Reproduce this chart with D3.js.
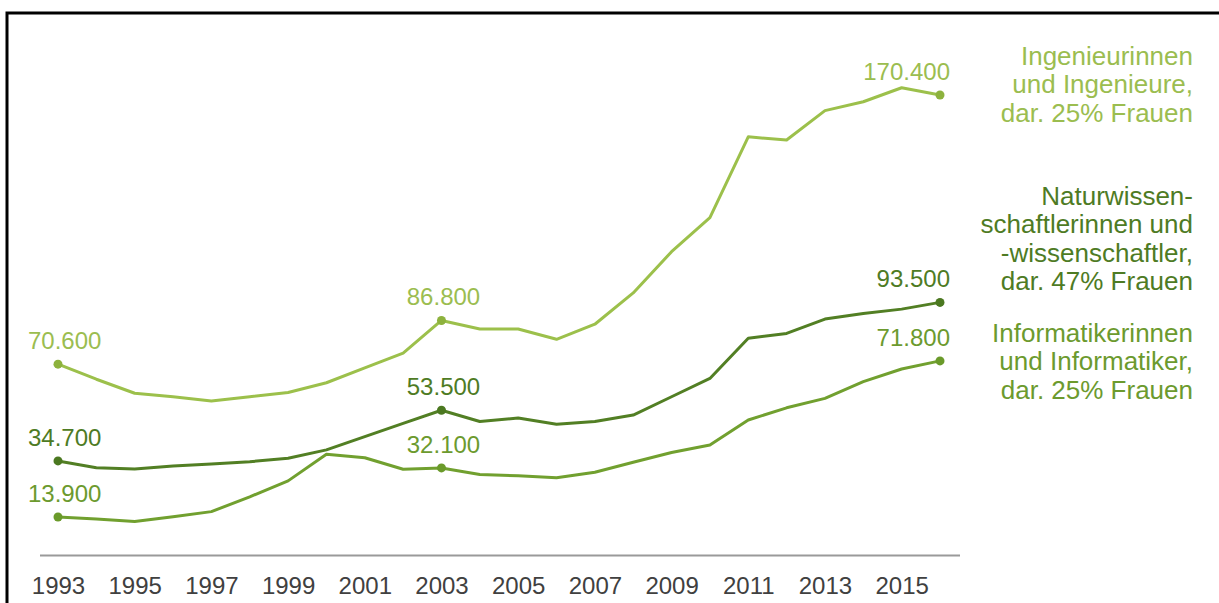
<!DOCTYPE html>
<html>
<head>
<meta charset="utf-8">
<script src="https://cdn.jsdelivr.net/npm/d3@7"></script>
<style>
  html, body { margin: 0; padding: 0; background: #fff; overflow: hidden; }
  svg { display: block; font-family: "Liberation Sans", Arial, sans-serif; }
</style>
</head>
<body>
<svg id="chart" width="1219" height="603"></svg>
<script>
// ---- Data (thousands) ----
const years = d3.range(1993, 2017);
const tickYears = [1993, 1995, 1997, 1999, 2001, 2003, 2005, 2007, 2009, 2011, 2013, 2015];

const ingenieure = [70.6, 65.0, 59.8, 58.5, 56.9, 58.5, 60.1, 63.7, 69.2, 74.7, 86.8, 83.6,
                    83.6, 79.8, 85.4, 97.0, 112.3, 124.9, 154.9, 153.7, 164.6, 167.9, 173.1, 170.4];
const naturwiss = [34.7, 32.2, 31.7, 32.8, 33.6, 34.4, 35.7, 38.8, 43.7, 48.6, 53.5, 49.3,
                   50.6, 48.3, 49.3, 51.7, 58.5, 65.3, 80.2, 82.0, 87.3, 89.4, 91.0, 93.5];
const informatik = [13.9, 13.2, 12.2, 14.0, 15.9, 21.4, 27.3, 37.2, 35.9, 31.6, 32.1, 29.7,
                    29.2, 28.5, 30.5, 34.2, 37.8, 40.6, 49.9, 54.4, 57.9, 64.1, 68.8, 71.8];

const seriesNames = ["Ingenieure", "Naturwiss", "Informatik"];
const legendLines = [
  ["Ingenieurinnen", "und Ingenieure,", "dar. 25% Frauen"],
  ["Naturwissen-", "schaftlerinnen und", "-wissenschaftler,", "dar. 47% Frauen"],
  ["Informatikerinnen", "und Informatiker,", "dar. 25% Frauen"]
];
const labelYears = [1993, 2003, 2016];

// ---- Styles ----
const lineColors = ["#9cc04b", "#527f24", "#71a02f"];
const dotColors  = ["#8db23d", "#4b7820", "#6a9a2a"];
const textColors = ["#9bbd50", "#4e7b24", "#6c9a2e"];

const svg = d3.select("#chart");

// frame
svg.append("rect")
  .attr("x", 7).attr("y", 13).attr("width", 1400).attr("height", 800)
  .attr("fill", "none").attr("stroke", "#000").attr("stroke-width", 3);

const x = d3.scaleLinear().domain([1993, 2016]).range([58, 940]);
const y = d3.scaleLinear().domain([0, 200]).range([554.5, 15.2]);

// baseline
svg.append("line")
  .attr("x1", x(1993) - 18).attr("x2", x(2016) + 20)
  .attr("y1", y(0) + 1).attr("y2", y(0) + 1)
  .attr("stroke", "#9a9a9a").attr("stroke-width", 2);

// x axis labels
const xAxis = d3.axisBottom(x).tickValues(tickYears).tickFormat(d3.format("d")).tickSize(0).tickPadding(0);
const gx = svg.append("g").attr("transform", `translate(0, ${y(0) + 22})`).call(xAxis);
gx.select(".domain").remove();
gx.selectAll("text")
  .attr("font-size", 24).attr("fill", "#404040")
  .attr("font-family", "'Liberation Sans', Arial, sans-serif");

const allSeries = [ingenieure, naturwiss, informatik];
const line = d3.line().x((d, i) => x(years[i])).y(d => y(d));

function labelText(v) {
  // German thousands style: 70.6 -> 70.600
  return d3.format(".3f")(v);
}

allSeries.forEach((vals, si) => {
  svg.append("path")
    .datum(vals)
    .attr("d", line)
    .attr("fill", "none")
    .attr("stroke", lineColors[si])
    .attr("stroke-width", 3)
    .attr("stroke-linejoin", "round");

  labelYears.forEach((yr, li) => {
    const i = years.indexOf(yr);
    const v = vals[i];
    svg.append("circle")
      .attr("cx", x(yr)).attr("cy", y(v)).attr("r", 4.5)
      .attr("fill", dotColors[si]);
    let anchor = "middle", dx = 2;
    if (li === 0) { anchor = "start"; dx = -30; }
    if (li === 2) { anchor = "end"; dx = 10; }
    svg.append("text")
      .attr("x", x(yr) + dx).attr("y", y(v) - 15)
      .attr("text-anchor", anchor)
      .attr("font-size", 24)
      .attr("fill", textColors[si])
      .text(labelText(v));
  });
});

// legend texts
const legendTop = [65, 205, 342];
legendLines.forEach((lines, si) => {
  const t = svg.append("text")
    .attr("text-anchor", "end")
    .attr("font-size", 26)
    .attr("fill", textColors[si]);
  lines.forEach((l, k) => {
    t.append("tspan").attr("x", 1193).attr("y", legendTop[si] + k * 28.3).text(l);
  });
});
</script>
</body>
</html>
